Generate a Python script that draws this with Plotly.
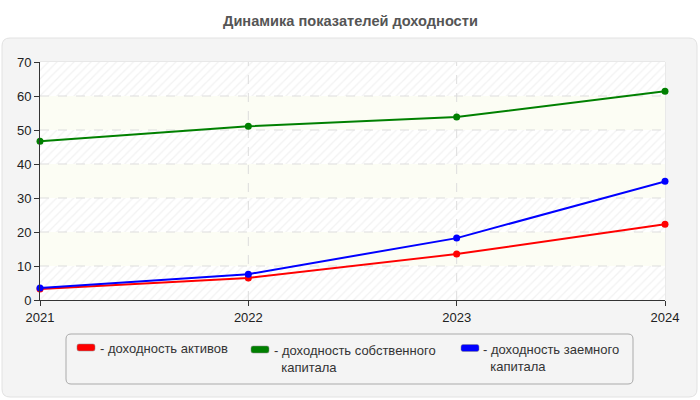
import plotly.graph_objects as go

years = [2021, 2022, 2023, 2024]
assets = [3.2, 6.5, 13.5, 22.3]
equity = [46.7, 51.1, 53.8, 61.4]
borrowed = [3.5, 7.6, 18.2, 34.9]
names = ["- доходность активов", "- доходность собственного<br>капитала", "- доходность заемного<br>капитала"]
colors = ["#ff0000", "#008000", "#0000ff"]
title = "Динамика показателей доходности"

W, H = 700, 400
L, R, T, B = 40, 35, 62, 100
pw, ph = W - L - R, H - T - B
Y_MAX, Y_STEP = 70, 10

def px(x):
    return (x - L) / pw

def py(y):
    return (H - B - y) / ph

def rrect(x0, y0, x1, y1, r):
    # pixel coords -> paper path with rounded corners
    a, b, c, d = px(x0), py(y0), px(x1), py(y1)
    rx, ry = r / pw, r / ph
    return (f"M{a+rx},{b} L{c-rx},{b} Q{c},{b} {c},{b-ry} L{c},{d+ry} Q{c},{d} {c-rx},{d} "
            f"L{a+rx},{d} Q{a},{d} {a},{d+ry} L{a},{b-ry} Q{a},{b} {a+rx},{b} Z")

fig = go.Figure()

# alternating background bands between grid lines (hatched / plain ivory)
x0b, x1b = years[0], years[-1]
yticks = list(range(0, Y_MAX + Y_STEP, Y_STEP))
for k, lo in enumerate(yticks[:-1]):
    hi = lo + Y_STEP
    band = dict(x=[x0b, x1b, x1b, x0b, x0b], y=[lo, lo, hi, hi, lo], mode="lines",
                line=dict(width=0), fill="toself", hoverinfo="skip", showlegend=False)
    if k % 2 == 0:
        band["fillcolor"] = "#ffffff"
        band["fillpattern"] = dict(shape="/", fgcolor="#e6e6e6", bgcolor="#ffffff",
                                   size=6, solidity=0.22)
    else:
        band["fillcolor"] = "#fcfdf4"
    fig.add_trace(go.Scatter(**band))

# dashed grid lines drawn over the bands, under the data
grid_style = dict(mode="lines", line=dict(color="#dddddd", width=1, dash="dash"),
                  hoverinfo="skip", showlegend=False)
for yv in yticks[1:-1]:
    fig.add_trace(go.Scatter(x=[x0b, x1b], y=[yv, yv], **grid_style))
for xv in years[1:-1]:
    fig.add_trace(go.Scatter(x=[xv, xv], y=[0, Y_MAX], **grid_style))

for vals, c in zip([assets, equity, borrowed], colors):
    fig.add_trace(go.Scatter(x=years, y=vals, mode="lines+markers", cliponaxis=False,
                             line=dict(color=c, width=2), marker=dict(color=c, size=7),
                             showlegend=False))

shapes = [
    dict(type="path", xref="paper", yref="paper", path=rrect(2, 38, 697, 397, 8),
         fillcolor="#f4f4f4", line=dict(color="#e2e2e2", width=1), layer="below"),
    dict(type="rect", xref="paper", yref="paper", x0=0, y0=0, x1=1, y1=1,
         line=dict(color="#dddddd", width=1), layer="below"),
    dict(type="path", xref="paper", yref="paper", path=rrect(66, 334, 633, 384, 5),
         fillcolor="rgba(0,0,0,0)", line=dict(color="#aaaaaa", width=1)),
]
annotations = [dict(text=f"<b>{title}</b>", xref="paper", yref="paper", x=px(350), y=py(21),
                    xanchor="center", yanchor="middle", showarrow=False,
                    font=dict(size=14.6, color="#555555", family="Liberation Sans, Arial"))]

# legend layout (pixels): symbol left, symbol centre y, text left, text top
leg_sym_x = [77, 251, 461]
leg_sym_y = [347.5, 349.5, 348]
leg_txt_x = [98, 272, 481]
leg_txt_top = [339, 341, 340]
for i, (nm, c) in enumerate(zip(names, colors)):
    x0 = leg_sym_x[i]
    shapes.append(dict(type="path", xref="paper", yref="paper",
                       path=rrect(x0, leg_sym_y[i] - 3.5, x0 + 18, leg_sym_y[i] + 3.5, 2),
                       fillcolor=c, line=dict(color="#888888", width=0.5)))
    text = nm.replace("<br>", "<br>\u00a0\u00a0")
    annotations.append(dict(text=text, xref="paper", yref="paper",
                            x=px(leg_txt_x[i]), y=py(leg_txt_top[i]),
                            xanchor="left", yanchor="top", align="left", showarrow=False,
                            font=dict(size=13, color="#333333", family="Liberation Sans, Arial")))

fig.update_layout(
    width=W, height=H, margin=dict(l=L, r=R, t=T, b=B),
    paper_bgcolor="white", plot_bgcolor="rgba(0,0,0,0)",
    font=dict(family="Liberation Sans, Arial", size=13, color="#222222"),
    shapes=shapes, annotations=annotations, showlegend=False,
    xaxis=dict(range=[years[0], years[-1]], tickvals=years, showgrid=False,
               showline=True, linecolor="#333333", linewidth=1,
               ticks="outside", ticklen=5, tickcolor="#333333", zeroline=False,
               tickfont=dict(size=13, color="#222222")),
    yaxis=dict(range=[0, Y_MAX], dtick=Y_STEP, showgrid=False,
               showline=True, linecolor="#333333", linewidth=1, ticks="outside", ticklen=5,
               tickcolor="#333333", zeroline=False, tickfont=dict(size=13, color="#222222")),
)

fig.write_html("out.html", post_script="document.body.style.margin='0';",
               config={"displayModeBar": False})
